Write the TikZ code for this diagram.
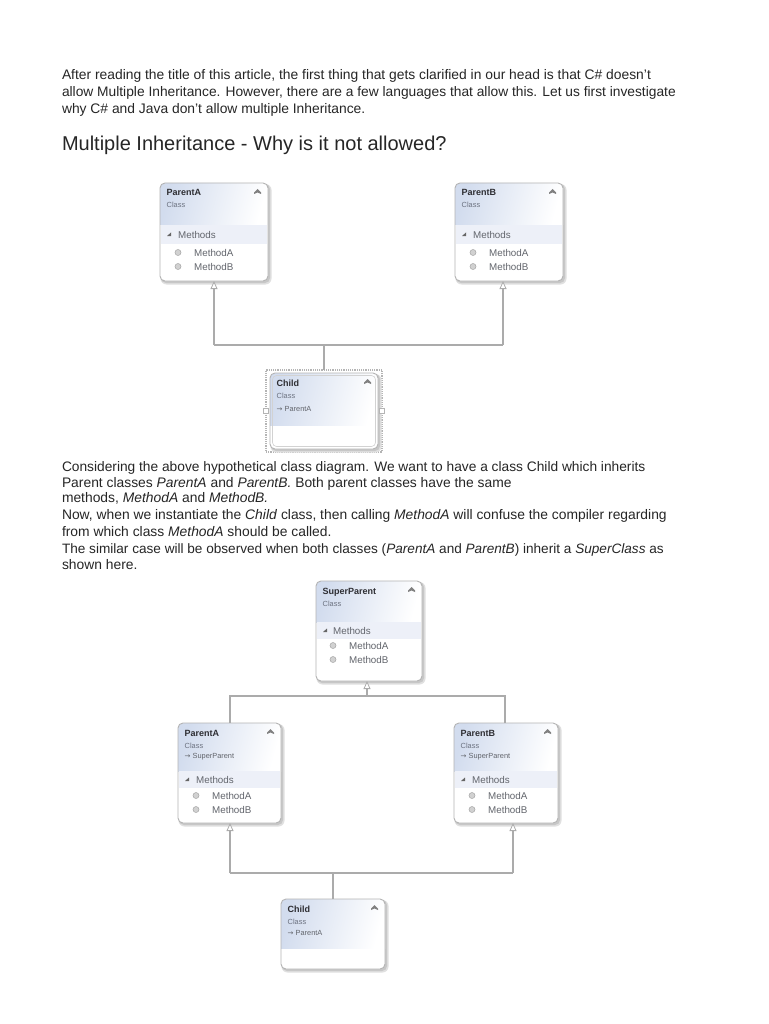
\documentclass[tikz,border=0pt]{standalone}
\usepackage{fontspec}
\setmainfont{Liberation Sans}
\newfontfamily\arrowfont{DejaVu Sans}
\usetikzlibrary{arrows.meta,calc}
\definecolor{bodytxt}{HTML}{262626}
\definecolor{hdrblue}{HTML}{D2DCEE}
\definecolor{bandblue}{HTML}{EDF0F8}
\definecolor{edgegray}{HTML}{B4B4B4}
\definecolor{linegray}{HTML}{ABABAB}
\definecolor{titletxt}{HTML}{2E2E33}
\definecolor{subtxt}{HTML}{6C7280}
\definecolor{methtxt}{HTML}{62656C}
\tikzset{
  x=1pt,y=-1pt,
  bodyline/.style={anchor=base west,inner sep=0,outer sep=0,text=bodytxt,font=\fontsize{13.85}{15}\selectfont},
  bodysized/.style={bodyline,font=\fontsize{#1}{15}\selectfont},
  heading/.style={anchor=base west,inner sep=0,outer sep=0,text=bodytxt,font=\fontsize{20}{24}\selectfont},
  classframe/.style={draw=edgegray,line width=.9pt,rounded corners=5pt,inner sep=0,outer sep=0},
  ctitle/.style={anchor=base west,inner sep=0,text=titletxt,font=\bfseries\fontsize{9}{10}\selectfont},
  csub/.style={anchor=base west,inner sep=0,text=subtxt,font=\fontsize{7.4}{9}\selectfont},
  cmeth/.style={anchor=base west,inner sep=0,text=methtxt,font=\fontsize{9.8}{10}\selectfont},
  conn/.style={draw=linegray,line width=1.2pt},
  inherit/.style={conn,-{Triangle[open,fill=white,length=8pt,width=7pt,line width=.8pt]}},
  handle/.style={draw=edgegray,fill=white,line width=.7pt,minimum size=5pt,inner sep=0,outer sep=0},
  selectbox/.style={draw=edgegray,densely dotted,line width=1.2pt,inner sep=0,outer sep=0},
}
% name, x, y, w, h, header bottom, title
\newcommand{\classbox}[7]{%
  \fill[black!12,rounded corners=6pt] (#2+.5,#3+1) rectangle (#2+#4+3.5,#3+#5+3.5);
  \fill[black!22,rounded corners=5pt] (#2+1,#3+1) rectangle (#2+#4+2,#3+#5+2);
  \fill[white,rounded corners=5pt] (#2,#3) rectangle (#2+#4,#3+#5);
  \begin{scope}
    \clip[rounded corners=5pt] (#2,#3) rectangle (#2+#4,#3+#5);
    \path[left color=hdrblue,right color=white,shading angle=75] (#2,#3) rectangle (#2+#4,#6);
  \end{scope}
  \node[classframe,minimum width=#4pt,minimum height=#5pt] (#1) at ({#2+#4/2},{#3+#5/2}) {};
  \node[ctitle] (#1-title) at (#2+6.5,#3+13) {#7};
  \node[csub] (#1-class) at (#2+6.5,#3+25) {Class};
  \path[fill=black!50] (#2+#4-14,#3+11) -- (#2+#4-14,#3+9.5) -- (#2+#4-10.5,#3+6) -- (#2+#4-7,#3+9.5) -- (#2+#4-7,#3+11) -- (#2+#4-10.5,#3+9.5) -- cycle;
}
% name, x, band top, band bottom, w, method-1 baseline, method-2 baseline, text x offset
\newcommand{\methodblock}[8]{%
  \fill[bandblue] (#2+1,#3) rectangle (#2+#5-1,#4);
  \fill[black!60] (#2+7,{(#3+#4)/2+1.5}) -- (#2+11,{(#3+#4)/2+1.5}) -- (#2+11,{(#3+#4)/2-2}) -- cycle;
  \node[cmeth] (#1-methods) at (#2+#8,{(#3+#4)/2+3.5}) {Methods};
  \node[circle,fill=black!18,draw=black!35,line width=.5pt,minimum size=6pt,inner sep=0] (#1-icon1) at (#2+#8,#6-3.5) {};
  \node[circle,fill=black!18,draw=black!35,line width=.5pt,minimum size=6pt,inner sep=0] (#1-icon2) at (#2+#8,#7-3.5) {};
  \node[cmeth] (#1-m1) at (#2+#8+16,#6) {MethodA};
  \node[cmeth] (#1-m2) at (#2+#8+16,#7) {MethodB};
}
\newcommand{\reflabel}[4]{\node[csub,text=methtxt] (#1) at (#2,#3) {{\arrowfont\fontsize{7}{9}\selectfont →} #4};}
\begin{document}
\begin{tikzpicture}
\useasboundingbox (0,0) rectangle (768,1024);
\fill[white] (0,0) rectangle (768,1024);

\node[bodyline] (l1) at (62,80) {After reading the title of this article, the first thing that gets clarified in our head is that C\# doesn’t};
\node[bodysized=13.78] (l2) at (62,97) {allow Multiple Inheritance. However, there are a few languages that allow this. Let us first investigate};
\node[bodyline] (l3) at (62,114) {why C\# and Java don’t allow multiple Inheritance.};
\node[heading] (h1) at (62,151) {Multiple Inheritance - Why is it not allowed?};

\node[bodysized=13.75] (l4) at (62,471) {Considering the above hypothetical class diagram. We want to have a class Child which inherits};
\node[bodyline] (l5) at (62,487) {Parent classes \textit{ParentA} and \textit{ParentB.} Both parent classes have the same};
\node[bodyline] (l6) at (62,502) {methods, \textit{MethodA} and \textit{MethodB.}};
\node[bodyline] (l7) at (62,519) {Now, when we instantiate the \textit{Child} class, then calling \textit{MethodA} will confuse the compiler regarding};
\node[bodyline] (l8) at (62,536) {from which class \textit{MethodA} should be called.};
\node[bodysized=13.6] (l9) at (62,553) {The similar case will be observed when both classes (\textit{ParentA} and \textit{ParentB}) inherit a \textit{SuperClass} as};
\node[bodyline] (l10) at (62,569) {shown here.};

% first diagram
\classbox{pa}{160}{183}{108}{98}{225}{ParentA}
\methodblock{pa}{160}{225}{244}{108}{256}{270}{18}
\classbox{pb}{455}{183}{108}{98}{225}{ParentB}
\methodblock{pb}{455}{225}{244}{108}{256}{270}{18}

\node[selectbox,minimum width=116pt,minimum height=82pt] (sel) at (324,411) {};
\classbox{ch}{270}{373}{108}{76}{425}{Child}
\reflabel{ch-ref}{276.5}{411}{ParentA}
\draw[edgegray!60,line width=.6pt,rounded corners=4pt] (272.5,375.5) rectangle (375.5,446.5);
\node[handle] (hl) at (sel.west) {};
\node[handle] (hr) at (sel.east) {};

\coordinate (jc) at (324,345);
\coordinate (ja) at (pa.south |- jc);
\coordinate (jb) at (503,345);
\draw[conn] (ja) -- (jb);
\draw[conn] (sel.north) -- (jc);
\draw[inherit] (ja) -- (pa.south);
\draw[inherit] (jb) -- (pb.south -| jb);

% second diagram
\classbox{sp}{316}{581}{106}{100}{622}{SuperParent}
\methodblock{sp}{316}{622}{639}{106}{649}{663}{17}
\classbox{qa}{178}{723}{103}{100}{771}{ParentA}
\reflabel{qa-ref}{184.5}{758}{SuperParent}
\methodblock{qa}{178}{771}{788}{103}{799}{813}{18}
\classbox{qb}{454}{723}{104}{100}{771}{ParentB}
\reflabel{qb-ref}{460.5}{758}{SuperParent}
\methodblock{qb}{454}{771}{788}{104}{799}{813}{18}
\classbox{qc}{281}{899}{104}{70}{948}{Child}
\reflabel{qc-ref}{287.5}{935}{ParentA}

\coordinate (ks) at (367,696);
\coordinate (ka) at (230,696);
\coordinate (kb) at (505,696);
\draw[conn] (qa.north -| ka) -- (ka) -- (kb) -- (qb.north -| kb);
\draw[inherit] (ks) -- (sp.south -| ks);

\coordinate (mc) at (333,873);
\coordinate (ma) at (230,873);
\coordinate (mb) at (513,873);
\draw[conn] (ma) -- (mb);
\draw[conn] (qc.north -| mc) -- (mc);
\draw[inherit] (ma) -- (qa.south -| ma);
\draw[inherit] (mb) -- (qb.south -| mb);
\end{tikzpicture}
\end{document}
